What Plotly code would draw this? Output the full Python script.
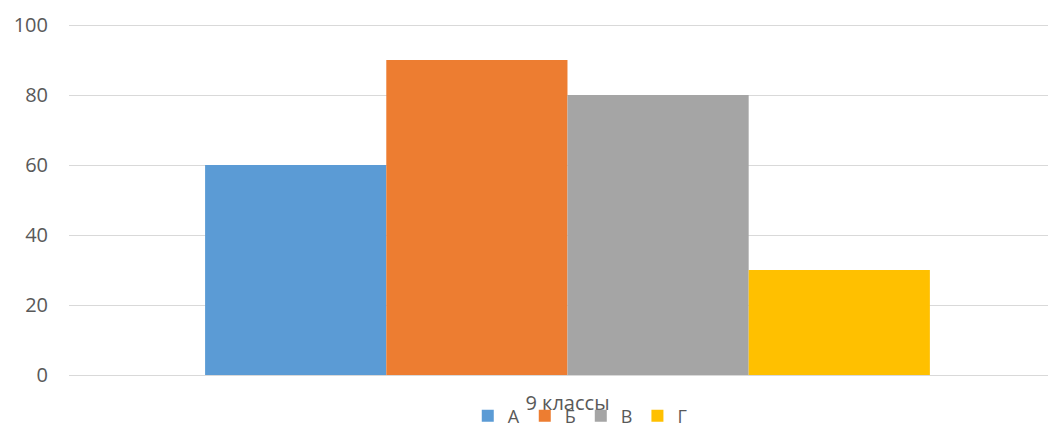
import plotly.graph_objects as go

categories = ["9 классы"]
series_names = ["А", "Б", "В", "Г"]
series_values = [[60], [90], [80], [30]]
colors = ["#5B9BD5", "#ED7D31", "#A5A5A5", "#FFC000"]
y_ticks = [0, 20, 40, 60, 80, 100]

fig = go.Figure()
for name, vals, c in zip(series_names, series_values, colors):
    fig.add_trace(go.Bar(x=categories, y=vals, name=name, marker=dict(color=c, line=dict(width=0))))

font_family = "Open Sans, Liberation Sans, sans-serif"
fig.update_layout(
    width=1056, height=425,
    margin=dict(l=61, r=8, t=16, b=58, autoexpand=False),
    paper_bgcolor="white", plot_bgcolor="white",
    barmode="group", bargap=0.273, bargroupgap=0,
    font=dict(family=font_family, color="#595959", size=19),
    showlegend=True,
    legend=dict(orientation="h", x=0.518, xanchor="center", y=-0.117, yanchor="middle",
                font=dict(size=18, color="#595959"), itemwidth=30,
                bgcolor="rgba(0,0,0,0)"),
    xaxis=dict(type="category", range=[-0.5, 0.49], showgrid=False, showline=False,
               ticks="", automargin=False, ticklabelstandoff=14,
               tickfont=dict(size=20, color="#595959")),
    yaxis=dict(range=[0, 100.3], tickvals=y_ticks, showgrid=True, gridcolor="#D9D9D9", gridwidth=1,
               zeroline=True, zerolinecolor="#D9D9D9", zerolinewidth=1, showline=False,
               automargin=False, ticks="", ticklabelstandoff=20,
               tickfont=dict(size=20, color="#595959")),
)
fig.write_html("out.html")
